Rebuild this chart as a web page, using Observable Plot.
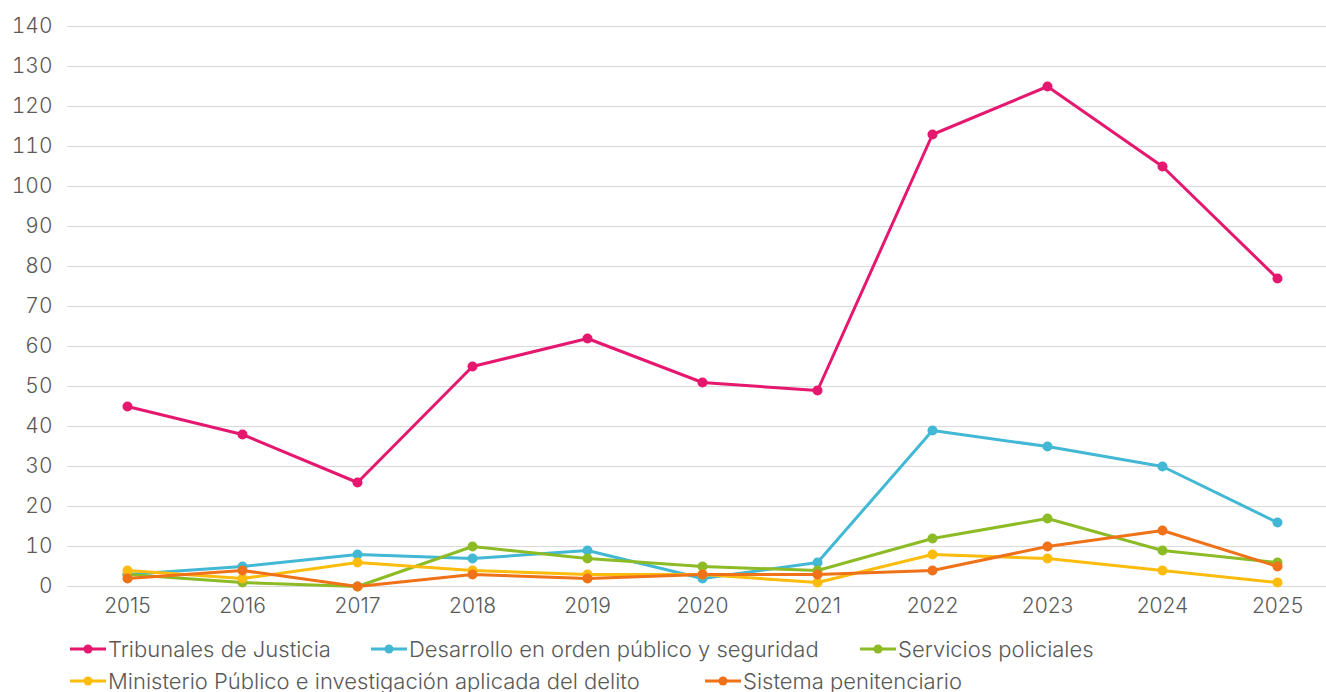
<!DOCTYPE html>
<html>
<head>
<meta charset="utf-8">
<script src="https://cdn.jsdelivr.net/npm/d3@7"></script>
<script src="https://cdn.jsdelivr.net/npm/@observablehq/plot@0.6"></script>
<style>
  html, body { margin: 0; padding: 0; background: #fff; overflow: hidden; }
  body { font-family: Inter, "Open Sans", sans-serif; color: #595959; }
  #chart svg { display: block; }
  .legend { position: relative; height: 67px; font-size: 22px; font-weight: 300; color: #595959; }
  .item { position: absolute; display: flex; align-items: center; white-space: nowrap; }
  .item svg { margin-right: 2px; }
</style>
</head>
<body>
<div id="chart"></div>
<div class="legend" id="legend"></div>
<script>
const years = [2015, 2016, 2017, 2018, 2019, 2020, 2021, 2022, 2023, 2024, 2025];
const seriesNames = [
  "Tribunales de Justicia",
  "Desarrollo en orden público y seguridad",
  "Servicios policiales",
  "Ministerio Público e investigación aplicada del delito",
  "Sistema penitenciario"
];
const tribunales   = [45, 38, 26, 55, 62, 51, 49, 113, 125, 105, 77];
const desarrollo   = [3, 5, 8, 7, 9, 2, 6, 39, 35, 30, 16];
const policiales   = [3, 1, 0, 10, 7, 5, 4, 12, 17, 9, 6];
const ministerio   = [4, 2, 6, 4, 3, 3, 1, 8, 7, 4, 1];
const penitenciario = [2, 4, 0, 3, 2, 3, 3, 4, 10, 14, 5];
const colors = ["#e6176f", "#42b8d5", "#8cbb26", "#fbbc0d", "#ef7118"];
const yTicks = [0, 10, 20, 30, 40, 50, 60, 70, 80, 90, 100, 110, 120, 130, 140];

const allValues = [tribunales, desarrollo, policiales, ministerio, penitenciario];
const data = [];
allValues.forEach((vals, i) => {
  vals.forEach((v, j) => data.push({serie: seriesNames[i], year: String(years[j]), value: v}));
});

const chart = Plot.plot({
  width: 1326,
  height: 625,
  marginLeft: 67,
  marginRight: 0,
  marginTop: 26,
  marginBottom: 39,
  style: {fontFamily: "Inter, 'Open Sans', sans-serif", fontSize: "21px", fontWeight: 300, color: "#595959", background: "#fff"},
  x: {type: "point", domain: years.map(String), range: [125, 1278], padding: 0, label: null, tickSize: 0, tickPadding: 12},
  y: {domain: [0, 140], ticks: yTicks, label: null, tickSize: 0, tickPadding: 15},
  color: {domain: seriesNames, range: colors},
  marks: [
    Plot.gridY(yTicks, {stroke: "#d9d9d9", strokeOpacity: 1, strokeWidth: 1}),
    Plot.axisY(yTicks, {tickSize: 0, tickPadding: 15, fill: "#595959", fontSize: 21, label: null}),
    Plot.axisX({tickSize: 0, tickPadding: 12, fill: "#595959", fontSize: 21, label: null}),
    Plot.line(data, {x: "year", y: "value", z: "serie", stroke: "serie", strokeWidth: 3, curve: "linear"}),
    Plot.dot(data, {x: "year", y: "value", fill: "serie", r: 5})
  ]
});
document.getElementById("chart").appendChild(chart);

const legendPos = [
  {x: 70, y: 25}, {x: 371, y: 25}, {x: 860, y: 25},
  {x: 70, y: 57}, {x: 705, y: 57}
];
const legend = document.getElementById("legend");
seriesNames.forEach((name, i) => {
  const div = document.createElement("div");
  div.className = "item";
  div.style.left = legendPos[i].x + "px";
  div.style.top = (legendPos[i].y - 14) + "px";
  div.innerHTML = `<svg width="36" height="12"><line x1="0" x2="36" y1="6" y2="6" stroke="${colors[i]}" stroke-width="3"/><circle cx="18" cy="6" r="4.5" fill="${colors[i]}"/></svg><span>${name}</span>`;
  legend.appendChild(div);
});
</script>
</body>
</html>
